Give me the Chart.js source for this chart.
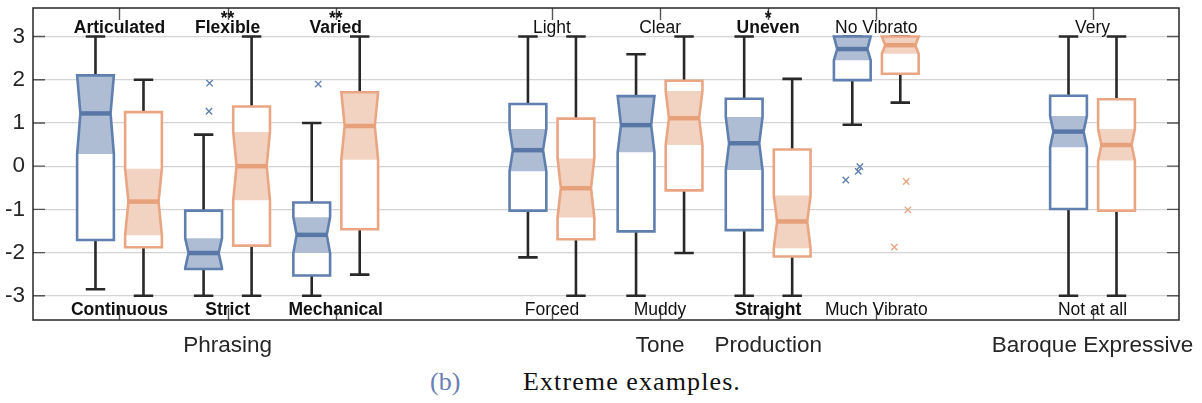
<!DOCTYPE html>
<html>
<head>
<meta charset="utf-8">
<title>Extreme examples</title>
<script src="https://cdn.jsdelivr.net/npm/chart.js@4.4.1/dist/chart.umd.min.js"></script>
<style>
  body { margin: 0; background: #fff; }
  #wrap { position: relative; width: 1202px; height: 403px; }
  #chart { position: absolute; left: 0; top: 0; }
  .cap { position: absolute; top: 369px; font-family: "Liberation Serif", serif; font-size: 26px; line-height: 26px; white-space: nowrap; color: #111; }
  .cap.tag { left: 430px; color: #6a7fb5; }
  .cap.txt { left: 523px; letter-spacing: 1.1px; }
</style>
</head>
<body>
<div id="wrap">
  <canvas id="chart" width="1202" height="365"></canvas>
  <span class="cap tag">(b)</span>
  <span class="cap txt">Extreme examples.</span>
</div>
<script>
// slot of each attribute pair along the x axis (gaps separate the groups)
const slots = [0, 1, 2, 4, 5, 6, 7, 9];
const upperLabels = ['Articulated', 'Flexible', 'Varied', 'Light', 'Clear', 'Uneven', 'No Vibrato', 'Very'];
const lowerLabels = ['Continuous', 'Strict', 'Mechanical', 'Forced', 'Muddy', 'Straight', 'Much Vibrato', 'Not at all'];
const boldPairs = [true, true, true, false, false, true, false, false];
const stars = ['', '**', '**', '', '', '*', '', ''];
const axisLabels = ['', 'Phrasing', '', '', 'Tone', 'Production', '', 'Baroque Expressive'];
const yTicks = [-3, -2, -1, 0, 1, 2, 3];

// first group (blue boxes)
const oneLow     = [-2.85, -3, -3, -2.11, -3, -3, 0.96, -3];
const oneQ1      = [-1.71, -2.38, -2.53, -1.03, -1.51, -1.48, 1.99, -0.99];
const oneMed     = [1.22, -2.01, -1.59, 0.37, 0.95, 0.53, 2.71, 0.8];
const oneQ3      = [2.1, -1.03, -0.84, 1.44, 1.62, 1.56, 3.0, 1.63];
const oneHigh    = [3, 0.73, 1.0, 3, 2.59, 3, 3, 3];
const oneNotchLo = [0.28, -2.36, -2.01, -0.12, 0.32, -0.09, 2.45, 0.44];
const oneNotchHi = [2.1, -1.67, -1.18, 0.86, 1.62, 1.14, 3.0, 1.16];
const oneOutSlot = [1, 1, 2, 7, 7, 7];
const oneOutVal  = [1.92, 1.27, 1.9, -0.32, -0.12, -0.01];
const oneJitter  = [0.055, 0.05, 0.06, -0.06, 0.055, 0.07];

// second group (orange boxes)
const twoLow     = [-3, -3, -2.51, -3, -2.01, -3, 1.47, -3];
const twoQ1      = [-1.875, -1.84, -1.46, -1.69, -0.56, -2.09, 2.14, -1.03];
const twoMed     = [-0.82, 0, 0.93, -0.51, 1.11, -1.28, 2.8, 0.49];
const twoQ3      = [1.25, 1.38, 1.71, 1.1, 1.975, 0.386, 3.0, 1.55];
const twoHigh    = [2, 3, 3, 3, 3, 2.02, 3, 3];
const twoNotchLo = [-1.6, -0.79, 0.15, -1.19, 0.49, -1.9, 2.6, 0.13];
const twoNotchHi = [-0.06, 0.79, 1.71, 0.18, 1.74, -0.68, 3.0, 0.86];
const twoOutSlot = [7, 7, 7];
const twoOutVal  = [-0.355, -1.01, -1.875];
const twoJitter  = [0.055, 0.07, -0.055];

const SHIFT = 0.222;   // offset of each box from its slot
const HALF_W = 0.17;   // half box width
const CAP = 0.09;      // half whisker cap width

const groups = [
  { shift: -SHIFT, low: oneLow, q1: oneQ1, med: oneMed, q3: oneQ3, high: oneHigh, nlo: oneNotchLo, nhi: oneNotchHi,
    line: '#5f7fae', fill: '#aebdd4', median: '#5877a6' },
  { shift: SHIFT, low: twoLow, q1: twoQ1, med: twoMed, q3: twoQ3, high: twoHigh, nlo: twoNotchLo, nhi: twoNotchHi,
    line: '#eaa582', fill: '#f2d3c1', median: '#e6a07a' }
];

function clamp(v, a, b) { return Math.max(a, Math.min(b, v)); }

const boxPlugin = {
  id: 'boxes',
  beforeDatasetsDraw(chart) {
    const ctx = chart.ctx;
    const xs = chart.scales.x, ys = chart.scales.y;
    ctx.save();
    groups.forEach(g => {
      slots.forEach((s, i) => {
        const c = s + g.shift;
        const cx = xs.getPixelForValue(c);
        const left = xs.getPixelForValue(c - HALF_W), right = xs.getPixelForValue(c + HALF_W);
        const inset = (right - left) * 0.09;
        const capL = xs.getPixelForValue(c - CAP), capR = xs.getPixelForValue(c + CAP);
        const yq1 = ys.getPixelForValue(g.q1[i]), yq3 = ys.getPixelForValue(g.q3[i]);
        const ym = ys.getPixelForValue(g.med[i]);
        const ynl = ys.getPixelForValue(clamp(g.nlo[i], g.q1[i], g.q3[i]));
        const ynh = ys.getPixelForValue(clamp(g.nhi[i], g.q1[i], g.q3[i]));
        const ylo = ys.getPixelForValue(g.low[i]), yhi = ys.getPixelForValue(g.high[i]);

        // whiskers and caps
        ctx.strokeStyle = '#282828';
        ctx.lineWidth = 2.6;
        ctx.lineCap = 'butt';
        ctx.beginPath();
        ctx.moveTo(cx, yq3); ctx.lineTo(cx, yhi);
        ctx.moveTo(capL, yhi); ctx.lineTo(capR, yhi);
        ctx.moveTo(cx, yq1); ctx.lineTo(cx, ylo);
        ctx.moveTo(capL, ylo); ctx.lineTo(capR, ylo);
        ctx.stroke();

        // notched outline
        const outline = new Path2D();
        outline.moveTo(left, yq1);
        outline.lineTo(left, ynl);
        outline.lineTo(left + inset, ym);
        outline.lineTo(left, ynh);
        outline.lineTo(left, yq3);
        outline.lineTo(right, yq3);
        outline.lineTo(right, ynh);
        outline.lineTo(right - inset, ym);
        outline.lineTo(right, ynl);
        outline.lineTo(right, yq1);
        outline.closePath();
        ctx.fillStyle = '#fff';
        ctx.fill(outline);

        // shaded notch band
        ctx.fillStyle = g.fill;
        ctx.beginPath();
        ctx.moveTo(left, ynl);
        ctx.lineTo(left + inset, ym);
        ctx.lineTo(left, ynh);
        ctx.lineTo(right, ynh);
        ctx.lineTo(right - inset, ym);
        ctx.lineTo(right, ynl);
        ctx.closePath();
        ctx.fill();

        ctx.strokeStyle = g.line;
        ctx.lineWidth = 2.6;
        ctx.lineJoin = 'miter';
        ctx.stroke(outline);

        // median
        ctx.strokeStyle = g.median;
        ctx.lineWidth = 4.5;
        ctx.beginPath();
        ctx.moveTo(left + inset, ym);
        ctx.lineTo(right - inset, ym);
        ctx.stroke();
      });
    });
    ctx.restore();
  },
  afterDraw(chart) {
    const ctx = chart.ctx;
    const a = chart.chartArea;
    const xs = chart.scales.x, ys = chart.scales.y;
    ctx.save();
    // inward tick marks
    ctx.strokeStyle = '#555';
    ctx.lineWidth = 1.4;
    ctx.beginPath();
    slots.forEach(s => {
      const x = Math.round(xs.getPixelForValue(s)) + 0.5;
      ctx.moveTo(x, a.top); ctx.lineTo(x, a.top + 12);
      ctx.moveTo(x, a.bottom); ctx.lineTo(x, a.bottom - 12);
    });
    yTicks.forEach(v => {
      const y = ys.getPixelForValue(v);
      ctx.moveTo(a.left, y); ctx.lineTo(a.left + 12, y);
      ctx.moveTo(a.right, y); ctx.lineTo(a.right - 12, y);
    });
    ctx.stroke();

    // frame
    ctx.strokeStyle = '#262626';
    ctx.lineWidth = 1.5;
    ctx.strokeRect(a.left, a.top, a.right - a.left, a.bottom - a.top);

    // attribute labels at both ends of the scale
    ctx.fillStyle = '#111';
    ctx.textAlign = 'center';
    ctx.textBaseline = 'alphabetic';
    slots.forEach((s, i) => {
      const x = xs.getPixelForValue(s);
      ctx.font = (boldPairs[i] ? 'bold ' : '') + '17.5px "Liberation Sans", Arial, sans-serif';
      ctx.fillText(upperLabels[i], x, a.top + 25);
      ctx.fillText(lowerLabels[i], x, a.bottom - 5);
      if (stars[i]) {
        ctx.font = 'bold 17.5px "Liberation Sans", Arial, sans-serif';
        ctx.fillText(stars[i], x, a.top + 16);
      }
    });
    ctx.restore();
  }
};

const ctx = document.getElementById('chart').getContext('2d');
const myChart = new Chart(ctx, {
  type: 'scatter',
  data: {
    datasets: [
      {
        data: oneOutVal.map((v, i) => ({ x: oneOutSlot[i] - SHIFT + oneJitter[i], y: v })),
        pointStyle: 'crossRot',
        radius: 4.5,
        borderWidth: 1.4,
        borderColor: groups[0].line,
        backgroundColor: groups[0].line
      },
      {
        data: twoOutVal.map((v, i) => ({ x: twoOutSlot[i] + SHIFT + twoJitter[i], y: v })),
        pointStyle: 'crossRot',
        radius: 4.5,
        borderWidth: 1.4,
        borderColor: groups[1].line,
        backgroundColor: groups[1].line
      }
    ]
  },
  options: {
    responsive: false,
    animation: false,
    devicePixelRatio: 1,
    layout: { padding: { top: 8, right: 23, left: 0, bottom: 0 } },
    plugins: {
      legend: { display: false },
      tooltip: { enabled: false }
    },
    scales: {
      x: {
        type: 'linear',
        min: -0.8,
        max: 9.8,
        afterBuildTicks: s => { s.ticks = slots.map(v => ({ value: v })); },
        afterFit: s => { s.height = 45; s.paddingLeft = 0; s.paddingRight = 0; },
        grid: { display: false, drawTicks: false },
        border: { display: false },
        ticks: {
          autoSkip: false,
          maxRotation: 0,
          padding: 12,
          color: '#262626',
          font: { family: '"Liberation Sans", Arial, sans-serif', size: 22.5 },
          callback: (v, i) => axisLabels[i]
        }
      },
      y: {
        min: -3.56,
        max: 3.66,
        afterBuildTicks: s => { s.ticks = yTicks.map(v => ({ value: v })); },
        afterFit: s => { s.width = 33; s.paddingTop = 0; s.paddingBottom = 0; },
        grid: { color: '#d4d4d4', lineWidth: 1.3, drawTicks: false },
        border: { display: false },
        ticks: {
          padding: 8,
          color: '#262626',
          font: { family: '"Liberation Sans", Arial, sans-serif', size: 22.5 },
          callback: v => String(v)
        }
      }
    }
  },
  plugins: [boxPlugin]
});
</script>
</body>
</html>
